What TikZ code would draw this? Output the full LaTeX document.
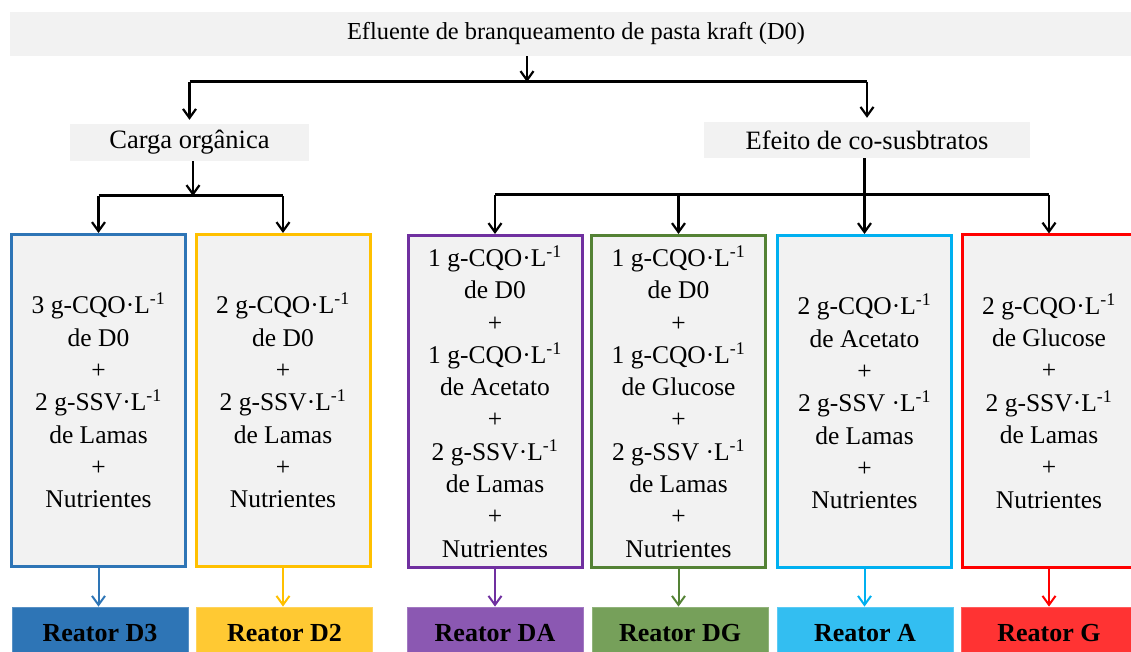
\documentclass[tikz,border=0pt]{standalone}
\usepackage{fontspec}
\setmainfont{Liberation Serif}
\usetikzlibrary{arrows.meta}

\definecolor{boxgray}{HTML}{F2F2F2}
\definecolor{cD3}{HTML}{2E75B6}
\definecolor{cD2}{HTML}{FFC000}
\definecolor{cDA}{HTML}{7030A0}
\definecolor{cDG}{HTML}{548235}
\definecolor{cA}{HTML}{00B0F0}
\definecolor{cG}{HTML}{FF0000}
\definecolor{fD3}{HTML}{2E75B6}
\definecolor{fD2}{HTML}{FFC933}
\definecolor{fDA}{HTML}{8B58B2}
\definecolor{fDG}{HTML}{76A05A}
\definecolor{fA}{HTML}{33BEF1}
\definecolor{fG}{HTML}{FF3333}

\tikzset{
  header/.style={fill=boxgray, inner sep=0pt, font=\fontsize{26.5}{30}\selectfont},
  cond/.style={draw=#1, line width=3pt, fill=boxgray, minimum width=174pt,
    minimum height=332pt, inner sep=0pt, align=center,
    font=\fontsize{25.5}{32.3}\selectfont},
  reactor/.style={fill=#1, draw=#1!80!white, line width=0.8pt,
    minimum width=176pt, minimum height=53pt, inner sep=0pt,
    font=\bfseries\fontsize{26}{30}\selectfont},
  hline/.style={line width=3pt},
  arr/.style={line width=2.2pt, -{Straight Barb[length=9pt,width=13pt]}},
  carr/.style={line width=2pt, draw=#1, -{Straight Barb[length=9pt,width=13pt]}},
}

\begin{document}
\begin{tikzpicture}[x=1pt,y=-1pt]
\useasboundingbox (0,0) rectangle (1131,652);
\clip (0,0) rectangle (1131,652);

% top level
\node[header, minimum width=1132pt, minimum height=44pt,
  font=\fontsize{24.4}{28}\selectfont] (title) at (576,34)
  {Efluente de branqueamento de pasta kraft (D0)};
\node[header, minimum width=239pt, minimum height=37pt] (carga) at (189.5,142.5)
  {Carga orgânica};
\node[header, minimum width=326pt, minimum height=36pt] (efeito) at (867,140)
  {Efeito de co-susbtratos};

% condition boxes
\node[cond=cD3] (b1) at (98.5,400.5)
  {3 g-CQO·L\textsuperscript{-1}\\de D0\\+\\2 g-SSV·L\textsuperscript{-1}\\de Lamas\\+\\Nutrientes};
\node[cond=cD2] (b2) at (283,400.5)
  {2 g-CQO·L\textsuperscript{-1}\\de D0\\+\\2 g-SSV·L\textsuperscript{-1}\\de Lamas\\+\\Nutrientes};
\node[cond=cDA] (b3) at (495,401.5)
  {1 g-CQO·L\textsuperscript{-1}\\de D0\\+\\1 g-CQO·L\textsuperscript{-1}\\de Acetato\\+\\2 g-SSV·L\textsuperscript{-1}\\de Lamas\\+\\Nutrientes};
\node[cond=cDG] (b4) at (678.5,401.5)
  {1 g-CQO·L\textsuperscript{-1}\\de D0\\+\\1 g-CQO·L\textsuperscript{-1}\\de Glucose\\+\\2 g-SSV ·L\textsuperscript{-1}\\de Lamas\\+\\Nutrientes};
\node[cond=cA] (b5) at (864.5,401.5)
  {2 g-CQO·L\textsuperscript{-1}\\de Acetato\\+\\2 g-SSV ·L\textsuperscript{-1}\\de Lamas\\+\\Nutrientes};
\node[cond=cG] (b6) at (1049,401)
  {2 g-CQO·L\textsuperscript{-1}\\de Glucose\\+\\2 g-SSV·L\textsuperscript{-1}\\de Lamas\\+\\Nutrientes};

% reactors
\node[reactor=fD3] (r1) at (100,633.5) {Reator D3};
\node[reactor=fD2] (r2) at (284.5,633.5) {Reator D2};
\node[reactor=fDA] (r3) at (495,633.5) {Reator DA};
\node[reactor=fDG] (r4) at (680,633.5) {Reator DG};
\node[reactor=fA] (r5) at (865,633.5) {Reator A};
\node[reactor=fG] (r6) at (1049,633.5) {Reator G};

% junction points
\coordinate (tj) at (527,82);
\coordinate (lj) at (193,196);
\coordinate (rj) at (864,195);

% first split
\draw[arr] (title.south -| tj) -- (tj);
\draw[hline] (tj -| carga.north) -- (tj -| efeito.north);
\draw[arr, shorten >=4pt] (tj -| carga.north) -- (carga.north);
\draw[arr, shorten >=4pt] (tj -| efeito.north) -- (efeito.north);

% organic load branch
\draw[arr] (carga.south -| lj) -- (lj);
\draw[hline] (lj -| b1.north) -- (lj -| b2.north);
\draw[arr] (lj -| b1.north) -- (b1.north);
\draw[arr] (lj -| b2.north) -- (b2.north);

% co-substrate branch
\draw[hline] (rj -| b3.north) -- (rj -| b6.north);
\draw[arr] (efeito.south -| b5.north) -- (b5.north);
\draw[arr] (rj -| b3.north) -- (b3.north);
\draw[arr] (rj -| b4.north) -- (b4.north);
\draw[arr] (rj -| b6.north) -- (b6.north);

% to reactors
\draw[carr=cD3] (b1.south) -- (b1.south |- r1.north);
\draw[carr=cD2] (b2.south) -- (b2.south |- r2.north);
\draw[carr=cDA] (b3.south) -- (b3.south |- r3.north);
\draw[carr=cDG] (b4.south) -- (b4.south |- r4.north);
\draw[carr=cA] (b5.south) -- (b5.south |- r5.north);
\draw[carr=cG] (b6.south) -- (b6.south |- r6.north);
\end{tikzpicture}
\end{document}
